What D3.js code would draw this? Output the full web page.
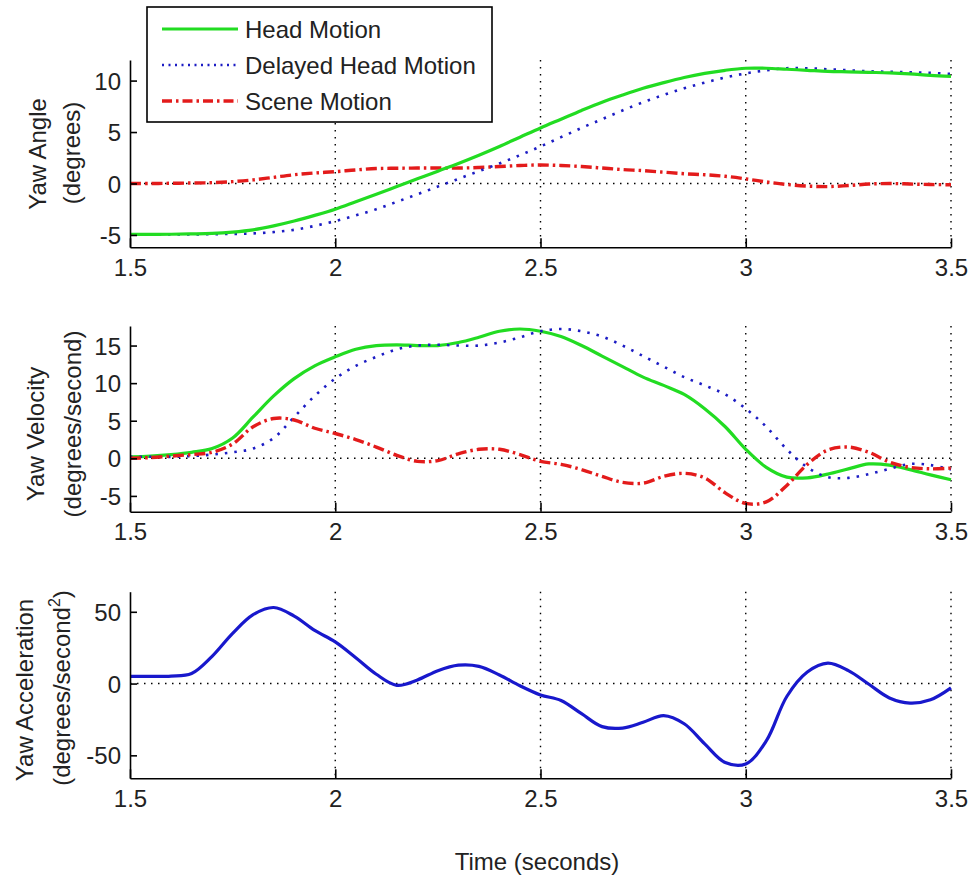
<!DOCTYPE html>
<html>
<head>
<meta charset="utf-8">
<script src="https://cdn.jsdelivr.net/npm/d3@7"></script>
<style>
  html, body { margin: 0; padding: 0; background: #fff; }
  svg { display: block; }
  text { font-family: "Liberation Sans", Arial, sans-serif; fill: #222; }
</style>
</head>
<body>
<svg id="chart" width="970" height="877"></svg>
<script>
// ---------------- DATA ----------------
const time = [1.5,1.55,1.6,1.65,1.7,1.75,1.8,1.85,1.9,1.95,2.0,2.05,2.1,2.15,2.2,2.25,2.3,2.35,2.4,2.45,2.5,
              2.55,2.6,2.65,2.7,2.75,2.8,2.85,2.9,2.95,3.0,3.05,3.1,3.15,3.2,3.25,3.3,3.35,3.4,3.45,3.5];

// Panel 1: yaw angle (degrees)
const headAngle = [-4.95,-4.95,-4.93,-4.9,-4.85,-4.72,-4.5,-4.12,-3.65,-3.1,-2.5,-1.78,-1.05,-0.3,0.45,1.2,1.95,2.75,3.6,4.5,5.4,
                   6.25,7.1,7.9,8.6,9.25,9.8,10.3,10.7,11.0,11.2,11.2,11.1,11.0,10.9,10.85,10.8,10.75,10.65,10.5,10.4];
const delayedAngle = [-4.95,-4.95,-4.95,-4.95,-4.93,-4.9,-4.85,-4.72,-4.5,-4.12,-3.65,-3.1,-2.5,-1.78,-1.05,-0.3,0.45,1.2,1.95,2.75,3.6,
                      4.5,5.4,6.25,7.1,7.9,8.6,9.25,9.8,10.3,10.7,11.0,11.2,11.2,11.1,11.0,10.9,10.85,10.8,10.75,10.65];
const sceneAngle = [0,0,0.02,0.05,0.08,0.18,0.35,0.6,0.85,1.02,1.15,1.32,1.45,1.48,1.5,1.5,1.5,1.55,1.65,1.75,1.8,
                    1.75,1.65,1.5,1.35,1.25,1.1,0.95,0.85,0.7,0.45,0.15,-0.1,-0.25,-0.3,-0.2,-0.05,0.0,-0.05,-0.1,-0.12];

// Panel 2: yaw velocity (degrees/second)
const headVel = [0.2,0.3,0.5,0.8,1.3,2.7,5.5,8.3,10.6,12.3,13.5,14.5,15.0,15.1,15.0,15.0,15.4,16.1,16.9,17.2,16.9,
                 16.2,15.0,13.6,12.2,10.8,9.7,8.5,6.6,4.2,1.2,-1.2,-2.5,-2.6,-2.1,-1.4,-0.75,-0.9,-1.5,-2.2,-2.85];
const delayedVel = [0.2,0.2,0.2,0.3,0.5,0.8,1.3,2.7,5.5,8.3,10.6,12.3,13.5,14.5,15.0,15.1,15.0,15.0,15.4,16.1,16.9,
                    17.2,16.9,16.2,15.0,13.6,12.2,10.8,9.7,8.5,6.6,4.2,1.2,-1.2,-2.5,-2.6,-2.1,-1.4,-0.75,-0.9,-1.5];
const sceneVel = [0,0.1,0.3,0.5,0.8,1.9,4.2,5.3,5.1,4.0,3.3,2.5,1.5,0.4,-0.4,-0.3,0.6,1.2,1.2,0.5,-0.4,
                  -0.8,-1.5,-2.4,-3.2,-3.3,-2.4,-2.0,-2.6,-4.6,-6.0,-5.8,-3.6,-0.8,1.1,1.5,0.8,-0.5,-1.2,-1.4,-1.3];

// Panel 3: yaw acceleration (degrees/second^2)
const accel = [5,5,5.2,7,19,35,48,53,47,37,29,18,6.5,-1.2,2.5,9,12.8,12,6,-1.5,-7.9,
               -11.8,-21,-30,-31,-27,-22.3,-28,-42,-55,-56,-40,-9,8,14.2,9,-0.5,-10,-13.6,-11.3,-3];

// Tick labels
const xTicks = [1.5, 2, 2.5, 3, 3.5];
const xTickLabels = ["1.5", "2", "2.5", "3", "3.5"];
const yTicks1 = [-5, 0, 5, 10];
const yTicks2 = [-5, 0, 5, 10, 15];
const yTicks3 = [-50, 0, 50];
const gridX = [2, 2.5, 3, 3.5];

const legendLabels = ["Head Motion", "Delayed Head Motion", "Scene Motion"];

// ---------------- STYLE ----------------
const GREEN = "#22dc22", BLUE = "#1c1cc4", RED = "#e31b1b", BLUE_SOLID = "#1818cc";
const styles = {
  head:    { stroke: GREEN, width: 3.2, dash: null },
  delayed: { stroke: BLUE, width: 2.6, dash: "2.5,7" },
  scene:   { stroke: RED, width: 3.4, dash: "11,4,2.5,4" }
};

// ---------------- LAYOUT ----------------
const svg = d3.select("#chart");
const X0 = 130, X1 = 951;
const x = d3.scaleLinear().domain([1.5, 3.5]).range([X0, X1]);

const panels = [
  { top: 60,    bottom: 247.3, domain: [-6.2, 12],  ticks: yTicks1,
    labels: [{ t: "Yaw Angle", x: 37, y: 154 }, { t: "(degrees)", x: 71, y: 153 }],
    series: [["scene", sceneAngle], ["delayed", delayedAngle], ["head", headAngle]] },
  { top: 326,   bottom: 511.7, domain: [-7.1, 17.6], ticks: yTicks2,
    labels: [{ t: "Yaw Velocity", x: 35, y: 434 }, { t: "(degrees/second)", x: 72, y: 424 }],
    series: [["head", headVel], ["delayed", delayedVel], ["scene", sceneVel]] },
  { top: 591.7, bottom: 778.3, domain: [-66, 64],   ticks: yTicks3,
    labels: [{ t: "Yaw Acceleration", x: 24, y: 690 }, { t: "(degrees/second\u00B2)", x: 61, y: 688, sup: true }],
    series: [["accel", accel]] }
];

const line = (y) => d3.line()
  .x((d, i) => x(time[i]))
  .y(d => y(d))
  .curve(d3.curveCatmullRom.alpha(0.5));

panels.forEach((p, pi) => {
  const y = d3.scaleLinear().domain(p.domain).range([p.bottom, p.top]);
  const g = svg.append("g");

  // dotted vertical grid lines
  g.selectAll("line.grid").data(gridX).enter().append("line")
    .attr("x1", d => x(d)).attr("x2", d => x(d))
    .attr("y1", p.top).attr("y2", p.bottom)
    .attr("stroke", "#000").attr("stroke-width", 1.4)
    .attr("stroke-dasharray", "1.5,5.5");

  // dotted zero line
  g.append("line")
    .attr("x1", X0).attr("x2", X1)
    .attr("y1", y(0)).attr("y2", y(0))
    .attr("stroke", "#000").attr("stroke-width", 1.4)
    .attr("stroke-dasharray", "1.5,5.5");

  // data lines
  p.series.forEach(([key, vals]) => {
    const st = key === "accel" ? { stroke: BLUE_SOLID, width: 3.2, dash: null } : styles[key];
    g.append("path")
      .datum(vals)
      .attr("d", line(y))
      .attr("fill", "none")
      .attr("stroke", st.stroke)
      .attr("stroke-width", st.width)
      .attr("stroke-dasharray", st.dash)
      .attr("stroke-linejoin", "round");
  });

  // axes
  const yAxis = d3.axisLeft(y).tickValues(p.ticks).tickSizeInner(-7).tickSizeOuter(0).tickPadding(9)
    .tickFormat(d => String(d));
  const ya = g.append("g").attr("transform", `translate(${X0},0)`).call(yAxis);
  const xAxis = d3.axisBottom(x).tickValues(xTicks).tickSizeInner(-9).tickSizeOuter(0).tickPadding(11)
    .tickFormat((d, i) => xTickLabels[i]);
  const xa = g.append("g").attr("transform", `translate(0,${p.bottom})`).call(xAxis);
  [ya, xa].forEach(a => {
    a.select(".domain").attr("stroke", "#000").attr("stroke-width", 1.6);
    a.selectAll(".tick line").attr("stroke", "#000").attr("stroke-width", 1.6);
    a.selectAll(".tick text").attr("font-size", 24).attr("font-family", "Liberation Sans, Arial, sans-serif")
      .attr("fill", "#222");
  });
  ya.selectAll(".tick text").attr("dy", "0.36em");
  xa.selectAll(".tick text").attr("dy", "0.72em");

  // y labels
  p.labels.forEach(l => {
    const t = g.append("text")
      .attr("transform", `translate(${l.x},${l.y}) rotate(-90)`)
      .attr("text-anchor", "middle")
      .attr("dy", "0.36em")
      .attr("font-size", 24);
    if (l.sup) {
      t.append("tspan").text("(degrees/second");
      t.append("tspan").attr("font-size", 16).attr("dy", "-0.6em").text("2");
      t.append("tspan").attr("dy", "0.4em").text(")");
    } else {
      t.text(l.t);
    }
  });
});

// x-axis title
svg.append("text").attr("x", 537).attr("y", 870).attr("text-anchor", "middle")
  .attr("font-size", 24).text("Time (seconds)");

// ---------------- LEGEND ----------------
const lg = svg.append("g");
lg.append("rect").attr("x", 147).attr("y", 7).attr("width", 345).attr("height", 115)
  .attr("fill", "#fff").attr("stroke", "#000").attr("stroke-width", 1.6);
const legendKeys = ["head", "delayed", "scene"];
const legendY = d3.scalePoint().domain(legendKeys).range([29, 101]);
const legendDash = { head: null, delayed: "2,4.5", scene: "10,4,2.5,4" };
legendKeys.forEach((k, i) => {
  const st = styles[k];
  lg.append("line").attr("x1", 162).attr("x2", 238)
    .attr("y1", legendY(k)).attr("y2", legendY(k))
    .attr("stroke", st.stroke).attr("stroke-width", st.width)
    .attr("stroke-dasharray", legendDash[k]);
  lg.append("text").attr("x", 245).attr("y", legendY(k)).attr("dy", "0.36em")
    .attr("font-size", 24).text(legendLabels[i]);
});
</script>
</body>
</html>
